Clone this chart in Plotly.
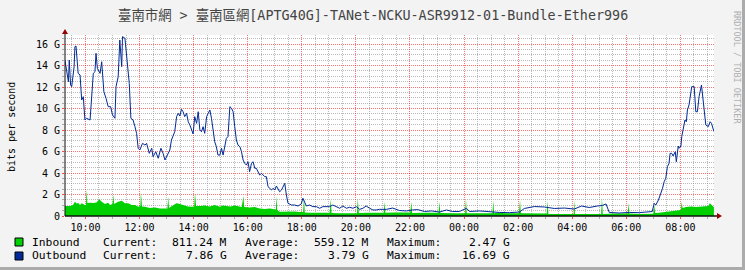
import plotly.graph_objects as go
import pandas as pd

# ---------------- data ----------------
title_text = "臺南市網 > 臺南區網[APTG40G]-TANet-NCKU-ASR9912-01-Bundle-Ether996"
y_label = "bits per second"
watermark = "RRDTOOL / TOBI OETIKER"

x_start_h = 9.243     # hours from day-1 midnight
x_end_h = 33.243

y_tick_vals = [0, 2, 4, 6, 8, 10, 12, 14, 16]
y_tick_text = ["0", "2 G", "4 G", "6 G", "8 G", "10 G", "12 G", "14 G", "16 G"]

# Outbound (G bits/s), time in hours from day-1 midnight
out_h = [9.24, 9.31, 9.37, 9.40, 9.45, 9.49, 9.58, 9.61, 9.65, 9.73, 9.80, 9.86, 9.92, 9.98,
         10.04, 10.17, 10.23, 10.29, 10.35, 10.39, 10.44, 10.54, 10.60, 10.68, 10.76, 10.84,
         10.93, 11.00, 11.09, 11.13, 11.21, 11.27, 11.34, 11.37, 11.46, 11.52, 11.62, 11.68,
         11.76, 11.83, 11.89, 11.95, 12.01, 12.11, 12.20, 12.26, 12.36, 12.45, 12.50, 12.60,
         12.69, 12.79, 12.87, 12.94, 13.02, 13.12, 13.18, 13.24, 13.30, 13.37, 13.43, 13.49,
         13.55, 13.61, 13.67, 13.74, 13.80, 13.86, 13.92, 13.98, 14.04, 14.11, 14.17, 14.23,
         14.29, 14.35, 14.41, 14.48, 14.54, 14.60, 14.66, 14.72, 14.78, 14.84, 14.90, 14.97,
         15.03, 15.09, 15.15, 15.21, 15.27, 15.34, 15.40, 15.46, 15.52, 15.58, 15.64, 15.71,
         15.77, 15.83, 15.89, 15.95, 16.01, 16.07, 16.14, 16.20, 16.26, 16.32, 16.44, 16.51,
         16.63, 16.69, 16.75, 16.88, 16.94, 17.00, 17.06, 17.12, 17.18, 17.25, 17.31, 17.37,
         17.43, 17.49, 17.62, 17.74, 17.86, 17.98, 18.04, 18.11, 18.17, 18.29, 18.41, 18.54,
         18.66, 18.78, 18.91, 19.03, 19.15, 19.28, 19.40, 19.52, 19.65, 19.77, 19.89, 20.02,
         20.14, 20.26, 20.38, 20.51, 20.63, 20.75, 20.87, 21.13, 21.36, 21.61, 21.87, 22.09,
         22.28, 22.54, 22.80, 23.09, 23.35, 23.57, 23.83, 24.09, 24.20, 24.57, 24.94, 25.31,
         25.68, 26.05, 26.23, 26.60, 26.97, 27.34, 27.71, 28.08, 28.34, 28.63, 28.93, 29.11,
         29.25, 29.37, 29.74, 30.11, 30.48, 30.85, 30.96, 31.03, 31.09, 31.19, 31.28, 31.34,
         31.40, 31.46, 31.52, 31.58, 31.62, 31.68, 31.73, 31.81, 31.85, 31.92, 31.95, 32.02,
         32.05, 32.10, 32.17, 32.22, 32.26, 32.32, 32.36, 32.42, 32.51, 32.57, 32.63, 32.69,
         32.78, 32.88, 32.94, 33.03, 33.10, 33.15, 33.24]
out_v = [14.51, 13.42, 12.49, 14.51, 12.19, 12.03, 13.89, 15.75, 15.81, 13.27, 13.12, 10.79, 11.10, 8.93,
         9.09, 8.93, 11.10, 13.27, 13.42, 15.13, 13.74, 13.27, 14.35, 11.56, 10.95, 10.17,
         10.17, 9.40, 9.09, 12.03, 12.96, 16.37, 13.89, 16.69, 16.53, 15.13, 12.34, 9.09,
         8.93, 8.31, 7.69, 6.30, 6.14, 6.76, 6.60, 6.76, 5.83, 6.30, 5.52, 5.98,
         5.37, 6.30, 5.83, 5.21, 5.67, 6.14, 7.07, 7.38, 7.84, 9.24, 9.55, 9.30,
         9.93, 9.70, 9.24, 9.55, 8.77, 8.47, 8.00, 7.63, 9.24, 8.62, 9.70, 8.00,
         7.84, 8.31, 7.69, 9.24, 9.55, 9.86, 9.09, 8.00, 6.91, 6.45, 5.67, 5.67,
         6.30, 5.67, 6.45, 7.23, 7.38, 10.17, 10.02, 9.70, 8.31, 7.07, 6.60, 6.45,
         5.98, 5.21, 4.90, 4.74, 5.05, 4.12, 4.90, 5.05, 4.44, 4.44, 3.81, 3.97,
         3.66, 3.66, 2.73, 2.42, 2.58, 2.42, 2.79, 2.58, 2.26, 2.42, 2.73, 3.04,
         1.95, 1.18, 1.02, 1.02, 0.93, 1.12, 1.65, 1.33, 0.93, 1.02, 0.87, 0.87,
         0.72, 0.87, 0.87, 0.87, 1.02, 0.87, 0.72, 0.93, 0.72, 0.81, 0.72, 0.87,
         0.62, 0.72, 0.93, 0.72, 0.56, 0.56, 0.62, 0.62, 0.74, 0.51, 0.47, 0.56,
         0.60, 0.42, 0.47, 0.37, 0.56, 0.42, 0.42, 0.72, 0.42, 0.47, 0.37, 0.33,
         0.31, 0.37, 0.70, 0.88, 0.84, 0.70, 0.74, 0.65, 0.93, 0.79, 0.93, 0.98,
         1.12, 0.33, 0.28, 0.33, 0.31, 0.37, 0.42, 1.18, 1.02, 1.49, 2.11, 2.58,
         3.19, 3.51, 4.59, 4.90, 5.83, 5.83, 5.58, 5.98, 5.05, 6.51, 6.30, 6.51,
         7.38, 8.00, 8.93, 8.77, 9.86, 10.33, 11.10, 12.03, 12.03, 9.70, 9.70, 11.10,
         12.19, 10.17, 8.47, 8.31, 8.77, 8.62, 7.86]

# Inbound (G bits/s)
in_h = [9.24, 9.43, 9.54, 9.61, 9.67, 9.73, 9.80, 9.86, 9.98, 10.02, 10.04, 10.07, 10.17, 10.28,
        10.41, 10.51, 10.60, 10.72, 10.84, 10.91, 11.00, 11.03, 11.06, 11.21, 11.34, 11.46,
        11.58, 11.71, 11.83, 11.95, 12.03, 12.05, 12.09, 12.20, 12.38, 12.57, 12.75, 12.94,
        13.03, 13.06, 13.09, 13.20, 13.37, 13.49, 13.64, 13.79, 13.93, 14.02, 14.05, 14.09,
        14.23, 14.41, 14.60, 14.78, 14.97, 15.08, 15.23, 15.37, 15.52, 15.67, 15.78, 15.84,
        15.87, 16.07, 16.26, 16.44, 16.63, 16.81, 16.96, 17.04, 17.06, 17.09, 17.18, 17.37,
        17.55, 17.74, 17.92, 18.05, 18.08, 18.11, 18.29, 18.66, 19.03, 19.07, 19.10, 19.40,
        19.77, 20.04, 20.07, 20.11, 20.51, 21.03, 21.06, 21.09, 21.43, 22.01, 22.05, 22.08,
        22.54, 23.06, 23.09, 23.12, 23.64, 24.04, 24.07, 24.10, 24.57, 25.05, 25.08, 25.11,
        25.31, 25.49, 26.03, 26.07, 26.10, 26.60, 27.06, 27.09, 27.12, 27.52, 28.05, 28.08,
        28.10, 28.63, 29.07, 29.10, 29.13, 29.55, 30.05, 30.08, 30.11, 30.48, 31.00, 31.03,
        31.07, 31.21, 31.40, 31.58, 31.77, 31.95, 32.02, 32.05, 32.08, 32.21, 32.40, 32.58,
        32.77, 32.92, 33.03, 33.09, 33.24]
in_v = [0.93, 0.93, 1.02, 1.33, 1.16, 1.21, 1.02, 1.18, 1.02, 1.02, 2.47, 1.21, 1.24, 1.21,
        1.26, 1.55, 1.33, 1.12, 1.24, 1.02, 1.12, 1.95, 1.12, 1.33, 1.42, 1.18,
        1.18, 1.02, 1.02, 0.87, 0.93, 2.19, 0.88, 0.87, 0.74, 0.79, 0.70, 0.74,
        0.70, 1.80, 0.74, 0.93, 1.18, 1.12, 1.02, 0.88, 0.87, 0.88, 2.14, 0.93,
        0.93, 0.98, 0.88, 1.02, 0.87, 0.98, 0.93, 0.88, 0.98, 0.88, 0.84, 1.86,
        0.84, 0.79, 0.84, 0.70, 0.65, 0.70, 0.60, 0.60, 1.86, 0.56, 0.40, 0.42,
        0.37, 0.42, 0.37, 0.37, 1.80, 0.33, 0.31, 0.33, 0.31, 1.55, 0.28, 0.25,
        0.28, 0.25, 1.63, 0.28, 0.31, 0.31, 1.33, 0.31, 0.33, 0.33, 1.33, 0.28,
        0.31, 0.31, 1.33, 0.28, 0.25, 0.25, 1.65, 0.25, 0.25, 0.25, 1.42, 0.25,
        0.33, 0.25, 0.25, 1.49, 0.25, 0.25, 0.23, 1.42, 0.19, 0.19, 0.19, 1.49,
        0.19, 0.19, 0.19, 1.70, 0.19, 0.23, 0.23, 1.18, 0.23, 0.19, 0.20, 1.02,
        0.28, 0.31, 0.37, 0.47, 0.51, 0.56, 0.56, 1.33, 0.74, 0.84, 0.88, 0.84,
        0.88, 0.88, 0.93, 1.18, 0.81]

legend_names = ["Inbound", "Outbound"]
legend_colors = ["#00CF00", "#002A97"]
legend_current = ["811.24 M", "7.86 G"]
legend_average = ["559.12 M", "3.79 G"]
legend_maximum = ["2.47 G", "16.69 G"]

# ---------------- figure ----------------
W, H = 745, 270
L, R, T, B = 65, 714, 35, 216
PW, PH = R - L, B - T
MONO = "DejaVu Sans Mono, Noto Sans CJK TC, monospace"

def px(x):
    return (x - L) / PW

def py(y):
    return (B - y) / PH

base = pd.Timestamp("2024-05-01")
def to_dt(hs):
    return [base + pd.Timedelta(hours=h) for h in hs]

fig = go.Figure()
fig.add_trace(go.Scatter(x=to_dt(in_h), y=in_v, mode="lines", fill="tozeroy",
                         fillcolor=legend_colors[0], line=dict(width=0, color=legend_colors[0]),
                         hoverinfo="skip"))
fig.add_trace(go.Scatter(x=to_dt(out_h), y=out_v, mode="lines",
                         line=dict(width=1, color=legend_colors[1]), hoverinfo="skip"))

major_grid = "rgba(255,0,0,0.55)"
minor_grid = "rgba(140,140,140,0.6)"

fig.update_layout(
    width=W, height=H,
    margin=dict(l=L, r=W - R, t=T, b=H - B, pad=0),
    paper_bgcolor="#F3F3F3", plot_bgcolor="#FFFFFF",
    showlegend=False,
    xaxis=dict(
        type="date",
        range=[base + pd.Timedelta(hours=x_start_h), base + pd.Timedelta(hours=x_end_h)],
        tickformat="%H:%M", dtick=7200000, tick0=base,
        showgrid=True, gridcolor=major_grid, griddash="1px,1px", gridwidth=1,
        ticks="outside", ticklen=2, tickcolor="rgba(255,0,0,0.7)",
        tickfont=dict(family=MONO, size=10, color="#000"),
        showline=False, zeroline=False, fixedrange=True,
        minor=dict(dtick=1800000, tick0=base, showgrid=True, gridcolor=minor_grid,
                   griddash="1px,1px", ticks="outside", ticklen=2, tickcolor="#AAAAAA"),
    ),
    yaxis=dict(
        range=[0, (B - T) / 10.75],
        tickmode="linear", tick0=0, dtick=2,
        labelalias={str(v): t for v, t in zip(y_tick_vals, y_tick_text)},
        showgrid=True, gridcolor=major_grid, griddash="1px,1px", gridwidth=1,
        ticks="outside", ticklen=2, tickcolor="rgba(255,0,0,0.7)",
        tickfont=dict(family=MONO, size=10, color="#000"),
        showline=False, zeroline=False, fixedrange=True,
        minor=dict(tickmode="linear", tick0=0, dtick=0.5, showgrid=True, gridcolor=minor_grid,
                   griddash="1px,1px", ticks="outside", ticklen=2, tickcolor="#AAAAAA"),
    ),
)

shapes = []
# axis lines
shapes.append(dict(type="line", xref="paper", yref="paper", x0=0, x1=px(717), y0=0, y1=0,
                   line=dict(color="#111111", width=1.3)))
shapes.append(dict(type="line", xref="paper", yref="paper", x0=0, x1=0, y0=0, y1=py(34),
                   line=dict(color="#111111", width=1)))
# arrows
shapes.append(dict(type="path", xref="paper", yref="paper", xsizemode="pixel", ysizemode="pixel",
                   xanchor=0, yanchor=py(34), path="M -3,0 L 3,0 L 0,5 Z",
                   fillcolor="#990000", line=dict(width=0)))
shapes.append(dict(type="path", xref="paper", yref="paper", xsizemode="pixel", ysizemode="pixel",
                   xanchor=px(717), yanchor=0, path="M 0,-3 L 0,3 L 5,0 Z",
                   fillcolor="#990000", line=dict(width=0)))
# frame shade (right / bottom)
shapes.append(dict(type="rect", xref="paper", yref="paper", x0=px(742), x1=px(745),
                   y0=py(270), y1=py(0), fillcolor="#ABABAB", line=dict(width=0), layer="below"))
shapes.append(dict(type="rect", xref="paper", yref="paper", x0=px(0), x1=px(745),
                   y0=py(270), y1=py(267), fillcolor="#ABABAB", line=dict(width=0), layer="below"))
# legend swatches
for i, c in enumerate(legend_colors):
    yc = 242 + 14 * i
    shapes.append(dict(type="rect", xref="paper", yref="paper", x0=px(15), x1=px(23),
                       y0=py(yc + 4), y1=py(yc - 4), fillcolor=c, line=dict(color="#000", width=1)))
fig.update_layout(shapes=shapes)

ann = []
ann.append(dict(text=title_text, xref="paper", yref="paper", x=px(372.5), y=py(15),
                xanchor="center", yanchor="middle", showarrow=False,
                font=dict(family=MONO, size=13.4, color="#444444")))
ann.append(dict(text=y_label, xref="paper", yref="paper", x=px(11), y=py(127), textangle=-90,
                xanchor="center", yanchor="middle", showarrow=False,
                font=dict(family=MONO, size=10, color="#000")))
ann.append(dict(text=watermark, xref="paper", yref="paper", x=px(737), y=py(67), textangle=90,
                xanchor="center", yanchor="middle", showarrow=False,
                font=dict(family=MONO, size=8.5, color="#AFAFAF")))
for i in range(2):
    yc = py(242 + 14 * i)
    f = dict(family=MONO, size=11.3, color="#000")
    ann.append(dict(text=legend_names[i], x=px(30.5), y=yc, xanchor="left"))
    ann.append(dict(text="Current:", x=px(102), y=yc, xanchor="left"))
    ann.append(dict(text=legend_current[i], x=px(227.7), y=yc, xanchor="right"))
    ann.append(dict(text="Average:", x=px(244.3), y=yc, xanchor="left"))
    ann.append(dict(text=legend_average[i], x=px(370), y=yc, xanchor="right"))
    ann.append(dict(text="Maximum:", x=px(386), y=yc, xanchor="left"))
    ann.append(dict(text=legend_maximum[i], x=px(511), y=yc, xanchor="right"))
    for a in ann[-7:]:
        a.update(xref="paper", yref="paper", yanchor="middle", showarrow=False, font=f, borderpad=0)
fig.update_layout(annotations=ann)

fig.write_html("out.html", config={"displayModeBar": False, "staticPlot": True})
